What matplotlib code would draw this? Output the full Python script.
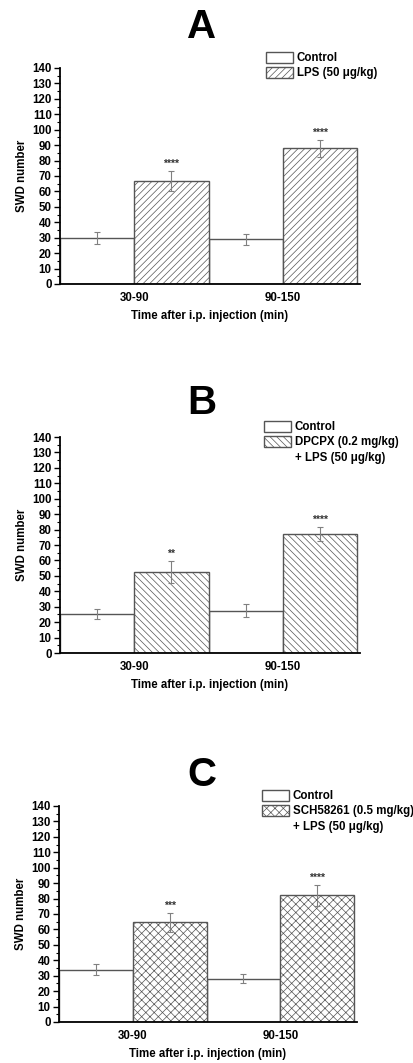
import matplotlib
matplotlib.use("Agg")
import matplotlib.pyplot as plt
from matplotlib.patches import Patch
from matplotlib.ticker import MultipleLocator
import numpy as np

plt.rcParams['font.family'] = ['Liberation Sans', 'DejaVu Sans']
plt.rcParams['hatch.color'] = '#a0a0a0'
plt.rcParams['hatch.linewidth'] = 0.5

groups = ["30-90", "90-150"]

ctrl_A = [30, 29]
ctrl_A_err = [4, 3.7]
trt_A = [66.5, 88]
trt_A_err = [6.5, 5.5]
stars_A = ["****", "****"]

ctrl_B = [25.3, 27.5]
ctrl_B_err = [3, 4]
trt_B = [52.5, 77]
trt_B_err = [7, 4.5]
stars_B = ["**", "****"]

ctrl_C = [34, 28]
ctrl_C_err = [3.3, 3]
trt_C = [64.5, 82]
trt_C_err = [6.3, 6.5]
stars_C = ["***", "****"]

titles = ["A", "B", "C"]
trt_labels = ["LPS (50 \u03bcg/kg)",
              "DPCPX (0.2 mg/kg)",
              "SCH58261 (0.5 mg/kg)"]
extra_labels = [None, "+ LPS (50 \u03bcg/kg)", "+ LPS (50 \u03bcg/kg)"]
hatches = ["/////", "\\\\\\\\\\", "xxxx"]

W, H = 414, 1063
fig = plt.figure(figsize=(W / 100, H / 100), dpi=100)

panels = [
    (ctrl_A, ctrl_A_err, trt_A, trt_A_err, stars_A),
    (ctrl_B, ctrl_B_err, trt_B, trt_B_err, stars_B),
    (ctrl_C, ctrl_C_err, trt_C, trt_C_err, stars_C),
]
# axes pixel boxes: left, bottom(y from top), width, height
boxes = [(60, 284, 300, 216), (60, 653, 300, 216), (59, 1022, 298, 216)]
title_y = [27, 403, 775]
leg_pos = [(266, 52), (264, 421), (262, 790)]

edge = '#555555'
errc = '#808080'
w = 0.5
x = np.arange(len(groups))

for i, (ctrl, cerr, trt, terr, stars) in enumerate(panels):
    l, b, wd, ht = boxes[i]
    ax = fig.add_axes([l / W, 1 - b / H, wd / W, ht / H])
    ax.bar(x - w / 2, ctrl, width=w, facecolor='white', edgecolor=edge,
           linewidth=1.0, zorder=2)
    ax.bar(x + w / 2, trt, width=w, facecolor='white', edgecolor=edge,
           linewidth=1.0, hatch=hatches[i], zorder=2)
    ax.errorbar(x - w / 2, ctrl, yerr=cerr, fmt='none', ecolor=errc,
                elinewidth=0.8, capsize=2.5, capthick=0.8, zorder=3)
    ax.errorbar(x + w / 2, trt, yerr=terr, fmt='none', ecolor=errc,
                elinewidth=0.8, capsize=2.5, capthick=0.8, zorder=3)
    for xi, v, e, s in zip(x + w / 2, trt, terr, stars):
        ax.text(xi, v + e + 1.5, s, ha='center', va='bottom', fontsize=7.5,
                fontweight='bold', color='#333333')
    ax.set_xlim(-0.5, 1.52)
    ax.set_ylim(0, 140)
    ax.yaxis.set_major_locator(MultipleLocator(10))
    ax.yaxis.set_minor_locator(MultipleLocator(5))
    ax.set_xticks(x)
    ax.set_xticklabels(groups, fontsize=8.3, fontweight='bold')
    ax.tick_params(axis='x', length=0, pad=6)
    ax.tick_params(axis='y', which='major', direction='out', length=4,
                   width=1, pad=2, labelsize=8.3)
    ax.tick_params(axis='y', which='minor', direction='out', length=2.5,
                   width=0.8)
    for lab in ax.get_yticklabels():
        lab.set_fontweight('bold')
    for sp in ['top', 'right']:
        ax.spines[sp].set_visible(False)
    for sp in ['left', 'bottom']:
        ax.spines[sp].set_linewidth(1.3)
    ax.set_ylabel("SWD number", fontsize=8.3, fontweight='bold', labelpad=3)
    ax.set_xlabel("Time after i.p. injection (min)", fontsize=8.3,
                  fontweight='bold', labelpad=4)

    fig.text(202 / W, 1 - title_y[i] / H, titles[i], fontsize=29,
             fontweight='bold', ha='center', va='center')

    handles = [Patch(facecolor='white', edgecolor=edge, linewidth=1.0),
               Patch(facecolor='white', edgecolor=edge, linewidth=1.0,
                     hatch=hatches[i])]
    labels = ["Control", trt_labels[i]]
    if extra_labels[i]:
        handles.append(Patch(facecolor='none', edgecolor='none'))
        labels.append(extra_labels[i])
    lx, ly = leg_pos[i]
    fig.legend(handles, labels, loc='upper left',
               bbox_to_anchor=(lx / W, 1 - ly / H), frameon=False,
               borderpad=0, borderaxespad=0, handlelength=2.3,
               handleheight=1.05, handletextpad=0.35,
               labelspacing=0.25, prop={'size': 8.3, 'weight': 'bold'})

fig.savefig("out.png", dpi=100)
